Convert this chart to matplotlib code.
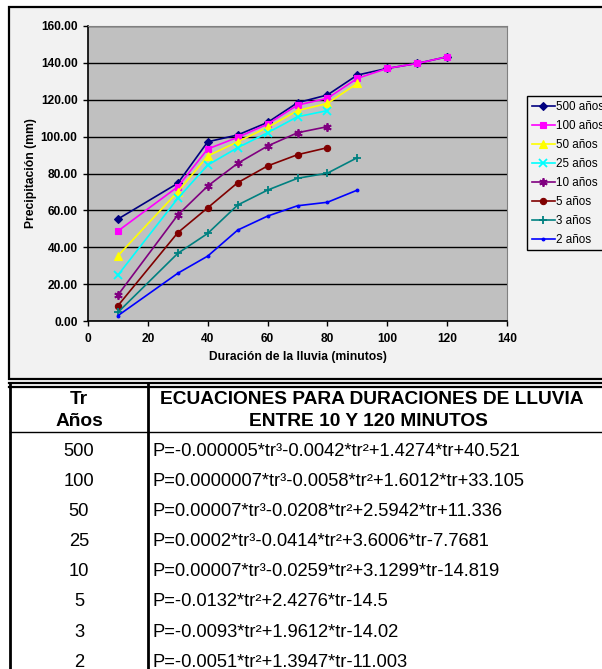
import matplotlib.pyplot as plt
from matplotlib.patches import Rectangle
from matplotlib.lines import Line2D

# =========================
# 데이터
# =========================
durations = [10, 30, 40, 50, 60, 70, 80, 90, 100, 110, 120]

p500 = [55.3, 74.7, 97.2, 100.9, 107.7, 118.4, 122.6, 133.4, 137.0, 139.7, 143.3]
p100 = [48.8, 72.8, 93.3, 99.6, 106.8, 117.1, 120.8, 131.6, 137.0, 139.7, 143.3]
p50 = [35.4, 70.1, 89.5, 97.2, 105.0, 114.1, 118.0, 128.9]
p25 = [24.9, 66.5, 84.6, 94.0, 102.1, 110.8, 114.1]
p10 = [14.1, 57.5, 73.2, 85.5, 94.9, 102.1, 105.4]
p5 = [8.3, 47.9, 61.4, 75.0, 84.1, 90.2, 94.0]
p3 = [4.7, 36.7, 47.5, 62.9, 71.0, 77.4, 80.2, 88.6]
p2 = [2.9, 25.9, 35.2, 49.3, 56.9, 62.5, 64.4, 71.0]

series_labels = ["500 años", "100 años", "50 años", "25 años",
                 "10 años", "5 años", "3 años", "2 años"]
series_values = [p500, p100, p50, p25, p10, p5, p3, p2]

tr_years = ["500", "100", "50", "25", "10", "5", "3", "2"]
equations = [
    "P=-0.000005*tr³-0.0042*tr²+1.4274*tr+40.521",
    "P=0.0000007*tr³-0.0058*tr²+1.6012*tr+33.105",
    "P=0.00007*tr³-0.0208*tr²+2.5942*tr+11.336",
    "P=0.0002*tr³-0.0414*tr²+3.6006*tr-7.7681",
    "P=0.00007*tr³-0.0259*tr²+3.1299*tr-14.819",
    "P=-0.0132*tr²+2.4276*tr-14.5",
    "P=-0.0093*tr²+1.9612*tr-14.02",
    "P=-0.0051*tr²+1.3947*tr-11.003",
]

# 스타일 (Excel 기본 색)
colors = ["#000080", "#FF00FF", "#FFFF00", "#00FFFF",
          "#800080", "#800000", "#008080", "#0000FF"]
markers = ["D", "s", "^", "x", (6, 2, 0), "o", "+", "o"]
msizes = [4, 5, 5.5, 6, 6, 4.5, 6, 2]

plt.rcParams["font.family"] = ["Liberation Sans", "DejaVu Sans"]

W, H = 602, 669
fig = plt.figure(figsize=(W / 100, H / 100), dpi=100)
fig.patch.set_facecolor("white")


def fx(px):
    return px / W


def fy(py):
    return 1 - py / H


# 차트 프레임
frame = Rectangle((fx(9), fy(379)), fx(620) - fx(9), fy(7) - fy(379),
                  transform=fig.transFigure, facecolor="#f2f2f2",
                  edgecolor="black", lw=1.6, zorder=-5)
fig.patches.append(frame)

# =========================
# 그래프
# =========================
ax = fig.add_axes([fx(88), fy(321), fx(507) - fx(88), fy(26) - fy(321)])
ax.set_facecolor("#c0c0c0")

for vals, lab, c, m, ms in zip(series_values, series_labels, colors, markers, msizes):
    ax.plot(durations[:len(vals)], vals, color=c, marker=m, markersize=ms,
            markeredgewidth=1.3 if m in ("x", "+", (6, 2, 0)) else 0.8,
            markeredgecolor=c, lw=1.2, label=lab)

ax.set_xlim(0, 140)
ax.set_ylim(0, 160)
ax.set_xticks(range(0, 141, 20))
ax.set_yticks(range(0, 161, 20))
ax.set_yticklabels([f"{v:.2f}" for v in range(0, 161, 20)])
ax.grid(axis="y", color="black", lw=1)
ax.set_axisbelow(True)

for s in ("top", "right"):
    ax.spines[s].set_color("#808080")
for s in ("left", "bottom"):
    ax.spines[s].set_color("black")
    ax.spines[s].set_linewidth(1.2)

ax.tick_params(axis="both", direction="out", length=3.5, width=1,
               labelsize=8.6, pad=4)
ax.tick_params(axis="x", pad=5)
for t in ax.get_xticklabels() + ax.get_yticklabels():
    t.set_fontweight("bold")

ax.set_xlabel("Duración de la lluvia (minutos)", fontsize=8.7, fontweight="bold")
ax.xaxis.set_label_coords(0.5, -0.1)
ax.set_ylabel("Precipitación (mm)", fontsize=8.7, fontweight="bold")
ax.yaxis.set_label_coords(-0.122, 0.5)

leg = ax.legend(loc="upper left", bbox_to_anchor=(fx(527), fy(96)),
                bbox_transform=fig.transFigure, borderaxespad=0,
                fontsize=8.4, frameon=True, fancybox=False,
                handlelength=2.0, handletextpad=0.1, labelspacing=0.6,
                borderpad=0.4)
leg.get_frame().set_edgecolor("black")
leg.get_frame().set_facecolor("#f2f2f2")
leg.get_frame().set_linewidth(1)
leg.get_frame().set_alpha(1)

# =========================
# 표
# =========================
lk = dict(transform=fig.transFigure, color="black")
fig.add_artist(Line2D([fx(9), fx(610)], [fy(383), fy(383)], lw=1.6, **lk))
fig.add_artist(Line2D([fx(9), fx(610)], [fy(386.5), fy(386.5)], lw=1.6, **lk))
fig.add_artist(Line2D([fx(10), fx(10)], [fy(383), fy(680)], lw=2, **lk))
fig.add_artist(Line2D([fx(148), fx(148)], [fy(383), fy(680)], lw=2, **lk))
fig.add_artist(Line2D([fx(10), fx(610)], [fy(432), fy(432)], lw=1, **lk))

hk = dict(ha="center", va="center", fontsize=13.8, fontweight="bold")
fig.text(fx(79), fy(400), "Tr", **hk)
fig.text(fx(79), fy(422), "Años", **hk)
fig.text(fx(372), fy(400), "ECUACIONES PARA DURACIONES DE LLUVIA", **hk)
fig.text(fx(368), fy(421), "ENTRE 10 Y 120 MINUTOS", **hk)

for i, (tr, eq) in enumerate(zip(tr_years, equations)):
    yy = 451 + i * 30.2
    fig.text(fx(79), fy(yy), tr, ha="center", va="center", fontsize=13.2)
    fig.text(fx(152), fy(yy), eq, ha="left", va="center", fontsize=13.2)

fig.savefig("out.png", dpi=100)
